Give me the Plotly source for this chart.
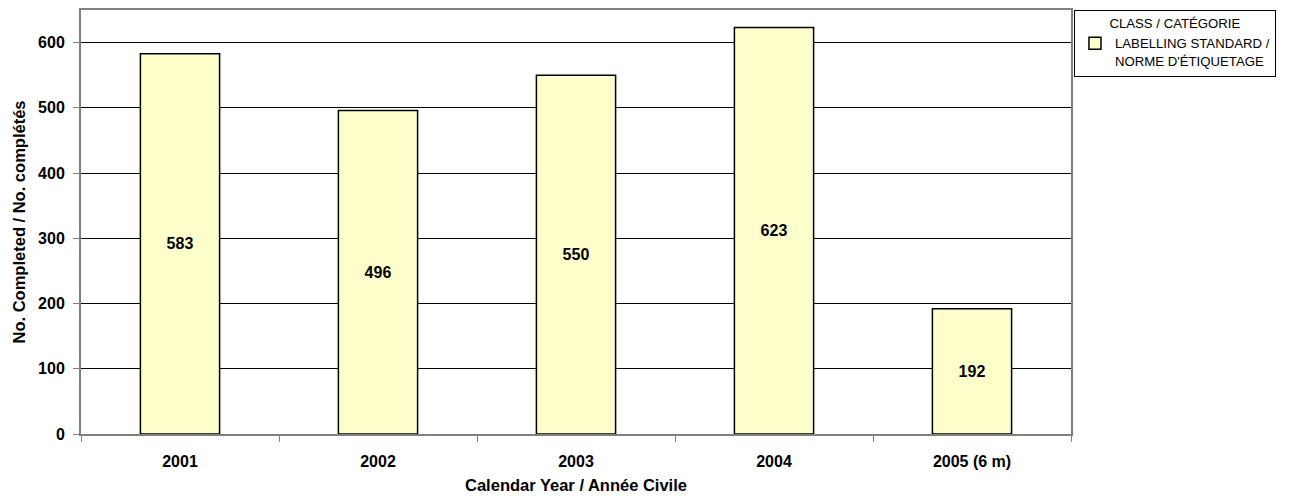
import plotly.graph_objects as go

categories = ["2001", "2002", "2003", "2004", "2005 (6 m)"]
values = [583, 496, 550, 623, 192]
series_name = "LABELLING STANDARD /<br>NORME D'ÉTIQUETAGE"
legend_title = "CLASS / CATÉGORIE"
y_ticks = [0, 100, 200, 300, 400, 500, 600]

FONT = "Liberation Sans, Arial, sans-serif"

fig = go.Figure()
fig.add_trace(go.Bar(
    x=categories, y=values, name=series_name,
    marker=dict(color="#FFFFCC", line=dict(color="black", width=1.5)),
    text=[str(v) for v in values], textposition="inside",
    insidetextanchor="middle",
    textfont=dict(family=FONT, size=16, color="black", weight="bold"),
    showlegend=True,
))

fig.update_layout(
    width=1283, height=486,
    margin=dict(l=73, r=220, t=0, b=60),
    paper_bgcolor="white", plot_bgcolor="white",
    bargap=0.6,
    font=dict(family=FONT, color="black"),
    legend=dict(
        x=1.003, xanchor="left", y=1.0, yanchor="top",
        bordercolor="black", borderwidth=1,
        font=dict(family=FONT, size=13.2),
        title=dict(text=legend_title, side="top center", font=dict(family=FONT, size=13.2)),
        itemwidth=30, valign="top",
    ),
    xaxis=dict(
        showline=True, linecolor="#808080", linewidth=2, mirror=True,
        ticks="outside", ticklen=6, tickcolor="#808080",
        tickson="boundaries", ticklabelstandoff=12,
        tickfont=dict(family=FONT, size=16, weight="bold"),
        title=dict(text="Calendar Year / Année Civile", font=dict(family=FONT, size=16.5, weight="bold"), standoff=12),
    ),
    yaxis=dict(
        range=[0, 650], tickvals=y_ticks,
        showline=True, linecolor="#808080", linewidth=2, mirror=True,
        ticks="outside", ticklen=6, tickcolor="#808080",
        ticklabelstandoff=5,
        showgrid=True, gridcolor="black", gridwidth=1,
        zeroline=False,
        tickfont=dict(family=FONT, size=16, weight="bold"),
        title=dict(text="No. Completed / No. complétés", font=dict(family=FONT, size=16.5, weight="bold"), standoff=8),
    ),
)

fig.write_html("out.html")
